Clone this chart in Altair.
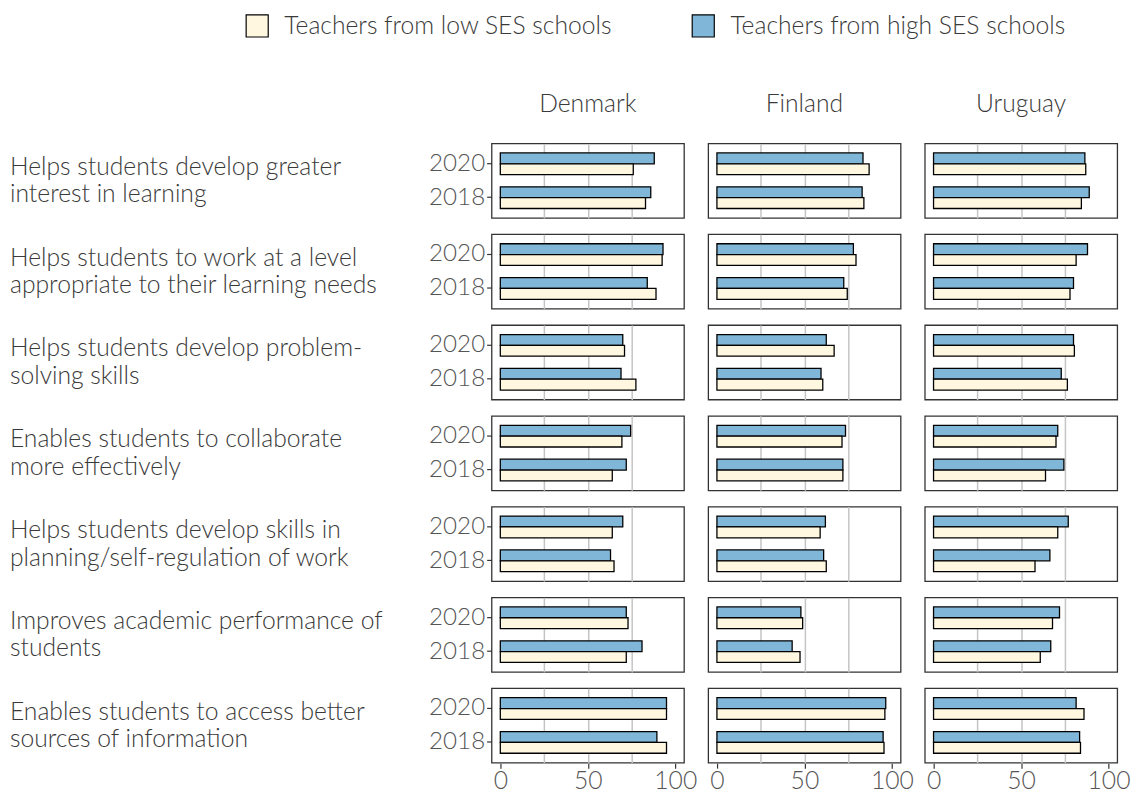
import altair as alt
import pandas as pd

statements = [
    "Helps students develop greater|interest in learning",
    "Helps students to work at a level|appropriate to their learning needs",
    "Helps students develop problem-|solving skills",
    "Enables students to collaborate|more effectively",
    "Helps students develop skills in|planning/self-regulation of work",
    "Improves academic performance of|students",
    "Enables students to access better|sources of information",
]
countries = ["Denmark", "Finland", "Uruguay"]
years = ["2020", "2018"]
low_label = "Teachers from low SES schools"
high_label = "Teachers from high SES schools"

denmark_high_2020 = [88, 93, 70, 74.5, 70, 72, 95]
denmark_low_2020 = [76, 92.5, 71, 69.5, 64, 73, 95]
denmark_high_2018 = [86, 84, 69, 72, 63, 81, 89.5]
denmark_low_2018 = [83, 89, 77.5, 64, 65, 72, 95]

finland_high_2020 = [83.5, 78, 62.5, 73.5, 62, 48, 96.5]
finland_low_2020 = [87, 79.5, 67, 71.5, 59, 49, 96]
finland_high_2018 = [83, 72.5, 59.5, 72, 61, 43, 95]
finland_low_2018 = [84, 74.5, 60.5, 72, 62.5, 47.5, 95.5]

uruguay_high_2020 = [86.5, 88, 80, 71, 77, 72, 81.5]
uruguay_low_2020 = [87, 81.5, 80.5, 70, 71, 68, 86]
uruguay_high_2018 = [89, 80, 73, 74.5, 66.5, 67, 83.5]
uruguay_low_2018 = [84.5, 78, 76.5, 64, 58, 61, 84]

series = {
    ("Denmark", "2020", high_label): denmark_high_2020,
    ("Denmark", "2020", low_label): denmark_low_2020,
    ("Denmark", "2018", high_label): denmark_high_2018,
    ("Denmark", "2018", low_label): denmark_low_2018,
    ("Finland", "2020", high_label): finland_high_2020,
    ("Finland", "2020", low_label): finland_low_2020,
    ("Finland", "2018", high_label): finland_high_2018,
    ("Finland", "2018", low_label): finland_low_2018,
    ("Uruguay", "2020", high_label): uruguay_high_2020,
    ("Uruguay", "2020", low_label): uruguay_low_2020,
    ("Uruguay", "2018", high_label): uruguay_high_2018,
    ("Uruguay", "2018", low_label): uruguay_low_2018,
}

rows = []
for (country, year, group), vals in series.items():
    for st, v in zip(statements, vals):
        rows.append({"statement": st, "country": country, "year": year,
                     "group": group, "value": v})
df = pd.DataFrame(rows)

FONT = "Lato"
TXT = "#3a3a3a"
AX = "#555555"
PANEL_W = 195
PANEL_H = 75.5
LINE_H = 28

bars = alt.Chart().mark_bar(stroke="black", strokeWidth=1.3).encode(
    x=alt.X("value:Q",
            scale=alt.Scale(domain=[-5, 105], nice=False, zero=False),
            axis=alt.Axis(
                values=[0, 25, 50, 75, 100], title=None,
                labelExpr="datum.value % 50 == 0 ? datum.label : ''",
                labelFontSize=25, labelColor=AX, labelFont=FONT,
                labelFontWeight=300,
                tickOpacity={"condition": {"test": "datum.value % 50 != 0", "value": 0}, "value": 1},
                gridOpacity={"condition": {"test": "datum.value == 0 || datum.value == 100", "value": 0}, "value": 1},
                tickColor="#333333", tickSize=5, tickWidth=1.2,
                grid=True, gridColor="#c4c4c4", gridWidth=1.5,
                domain=False, labelPadding=1,
            )),
    x2=alt.datum(0),
    y=alt.Y("year:N", sort=years,
            scale=alt.Scale(paddingInner=0.36, paddingOuter=0.28),
            axis=alt.Axis(title=None, labelFontSize=24.5, labelColor=AX,
                          labelFont=FONT, labelFontWeight=300,
                          tickColor="#333333", tickSize=5, tickWidth=1.2,
                          domain=False, labelPadding=2)),
    yOffset=alt.YOffset("group:N", sort=[high_label, low_label]),
    color=alt.Color("group:N",
                    scale=alt.Scale(domain=[low_label, high_label],
                                    range=["#fff7e0", "#80b7d8"]),
                    legend=alt.Legend(
                        title=None, orient="none", direction="horizontal",
                        legendX=-250, legendY=-132,
                        labelFontSize=25, labelColor=TXT, labelFont=FONT,
                        labelFontWeight=300, labelLimit=600,
                        symbolType="square", symbolSize=500,
                        symbolStrokeColor="black", symbolStrokeWidth=1.2,
                        symbolOpacity=1, columnPadding=77, labelOffset=15,
                    )),
)

labels = alt.Chart().mark_text(
    align="left", baseline="middle", lineBreak="|", fontSize=25,
    lineHeight=LINE_H, font=FONT, fontWeight=300, color=TXT,
).encode(
    text="statement:N",
    x=alt.value(-488),
    y=alt.value(PANEL_H / 2 - LINE_H / 2),
).transform_filter(
    (alt.datum.country == "Denmark") & (alt.datum.year == "2020")
    & (alt.datum.group == high_label)
)

chart = alt.layer(bars, labels, data=df).properties(
    width=PANEL_W, height=PANEL_H
).facet(
    row=alt.Row("statement:N", sort=statements,
                header=alt.Header(title=None, labels=False)),
    column=alt.Column("country:N", sort=countries,
                      header=alt.Header(title=None, labelFontSize=25,
                                        labelColor=TXT, labelFont=FONT,
                                        labelFontWeight=300,
                                        labelPadding=27)),
    spacing={"row": 16, "column": 24.5},
    bounds="flush",
).configure(
    font=FONT
).configure_view(
    stroke="#333333", strokeWidth=1.3
).properties(padding={"left": 1, "top": 0, "right": 5, "bottom": 0})

chart.save("out.html", embed_options={"renderer": "svg", "actions": False})
